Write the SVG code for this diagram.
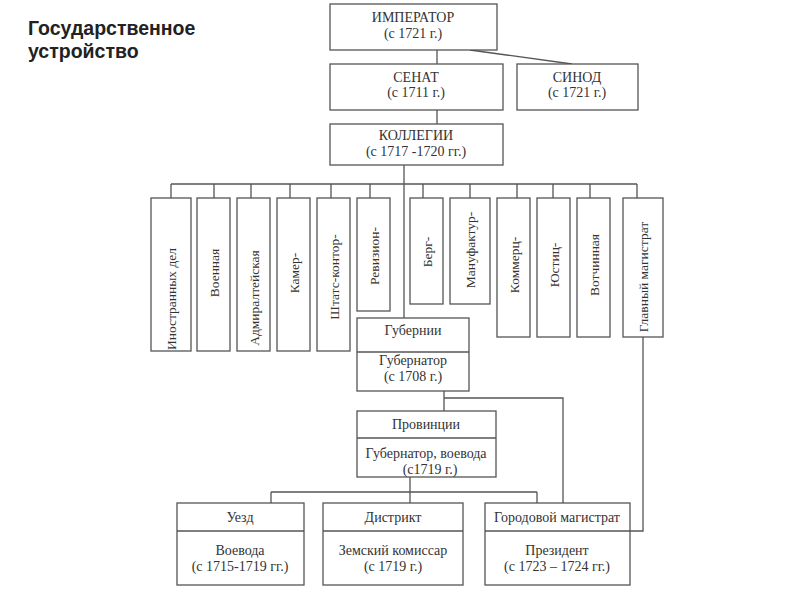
<svg xmlns="http://www.w3.org/2000/svg" width="800" height="600" viewBox="0 0 800 600">
<style>
.box{fill:#fff;stroke:#555;stroke-width:1.3}
.ln{fill:none;stroke:#555;stroke-width:1.3}
.t{font-family:"Liberation Serif","Times New Roman",serif;font-size:14px;fill:#333;text-anchor:middle}
.v{font-family:"Liberation Serif","Times New Roman",serif;font-size:13.5px;fill:#333;text-anchor:middle;dominant-baseline:central}
.title{font-family:"Liberation Sans",Arial,sans-serif;font-size:19.5px;font-weight:bold;fill:#222}
</style>
<rect width="800" height="600" fill="#fff"/>
<text class="title" x="28" y="35">Государственное</text>
<text class="title" x="28" y="58">устройство</text>

<g id="connectors">
<path class="ln" d="M437 50V64M437 110V124M470 50L572 64"/>
<path class="ln" d="M404 165V318"/>
<path class="ln" d="M171 184H637M171 184V198M214 184V198M251 184V198M290 184V198M331 184V198M370 184V198M423 184V198M470 184V198M517 184V198M553 184V198M590 184V198M637 184V198"/>
<path class="ln" d="M444 391V411M444 398H563V503"/>
<path class="ln" d="M410 477V492M271 492H537M271 492V503M410 492V503M537 492V503"/>
<path class="ln" d="M643 337V531H630"/>
</g>

<g id="imperator"><rect class="box" x="330" y="4" width="167" height="46"/><text class="t" x="413" y="22">ИМПЕРАТОР</text><text class="t" x="413" y="38">(с 1721 г.)</text></g>
<g id="senat"><rect class="box" x="330" y="64" width="173" height="46"/><text class="t" x="416" y="82">СЕНАТ</text><text class="t" x="416" y="97">(с 1711 г.)</text></g>
<g id="sinod"><rect class="box" x="517" y="64" width="121" height="46"/><text class="t" x="577" y="82">СИНОД</text><text class="t" x="577" y="97">(с 1721 г.)</text></g>
<g id="kollegii"><rect class="box" x="330" y="124" width="173" height="41"/><text class="t" x="416" y="140">КОЛЛЕГИИ</text><text class="t" x="416" y="156">(с 1717 -1720 гг.)</text></g>

<g id="k1"><rect class="box" x="151" y="198" width="40" height="153"/><text class="v" transform="translate(171 299) rotate(-90)">Иностранных дел</text></g>
<g id="k2"><rect class="box" x="197" y="198" width="33" height="153"/><text class="v" transform="translate(214 273) rotate(-90)">Военная</text></g>
<g id="k3"><rect class="box" x="237" y="198" width="33" height="153"/><text class="v" transform="translate(254 298) rotate(-90)">Адмиралтейская</text></g>
<g id="k4"><rect class="box" x="277" y="198" width="33" height="153"/><text class="v" transform="translate(294 273) rotate(-90)">Камер-</text></g>
<g id="k5"><rect class="box" x="317" y="198" width="33" height="153"/><text class="v" transform="translate(334 277) rotate(-90)">Штатс-контор-</text></g>
<g id="k6"><rect class="box" x="357" y="198" width="33" height="113"/><text class="v" transform="translate(374 256) rotate(-90)">Ревизион-</text></g>
<g id="k7"><rect class="box" x="410" y="198" width="33" height="106"/><text class="v" transform="translate(427 252) rotate(-90)">Берг-</text></g>
<g id="k8"><rect class="box" x="450" y="198" width="40" height="106"/><text class="v" transform="translate(470 250) rotate(-90)">Мануфактур-</text></g>
<g id="k9"><rect class="box" x="497" y="198" width="33" height="139"/><text class="v" transform="translate(514 265) rotate(-90)">Коммерц-</text></g>
<g id="k10"><rect class="box" x="537" y="198" width="33" height="139"/><text class="v" transform="translate(554 265) rotate(-90)">Юстиц-</text></g>
<g id="k11"><rect class="box" x="577" y="198" width="33" height="139"/><text class="v" transform="translate(594 265) rotate(-90)">Вотчинная</text></g>
<g id="k12"><rect class="box" x="623" y="198" width="40" height="139"/><text class="v" transform="translate(643 277) rotate(-90)">Главный магистрат</text></g>

<g id="gubernii"><rect class="box" x="357" y="318" width="112" height="73"/><line class="ln" x1="357" y1="352" x2="469" y2="352"/><text class="t" x="413" y="335">Губернии</text><text class="t" x="413" y="365">Губернатор</text><text class="t" x="413" y="381">(с 1708 г.)</text></g>
<g id="provincii"><rect class="box" x="357" y="411" width="139" height="66"/><line class="ln" x1="357" y1="438" x2="496" y2="438"/><text class="t" x="426" y="429">Провинции</text><text class="t" x="426" y="458">Губернатор, воевода</text><text class="t" x="430" y="474">(с1719 г.)</text></g>

<g id="uezd"><rect class="box" x="177" y="503" width="127" height="82"/><line class="ln" x1="177" y1="531" x2="304" y2="531"/><text class="t" x="240" y="522">Уезд</text><text class="t" x="240" y="555">Воевода</text><text class="t" x="240" y="571">(с 1715-1719 гг.)</text></g>
<g id="distrikt"><rect class="box" x="323" y="503" width="140" height="82"/><line class="ln" x1="323" y1="531" x2="463" y2="531"/><text class="t" x="393" y="522">Дистрикт</text><text class="t" x="393" y="555">Земский комиссар</text><text class="t" x="393" y="571">(с 1719 г.)</text></g>
<g id="gorodovoy"><rect class="box" x="485" y="503" width="145" height="82"/><line class="ln" x1="485" y1="531" x2="630" y2="531"/><text class="t" x="557" y="522">Городовой магистрат</text><text class="t" x="557" y="555">Президент</text><text class="t" x="557" y="571">(с 1723 – 1724 гг.)</text></g>
</svg>
